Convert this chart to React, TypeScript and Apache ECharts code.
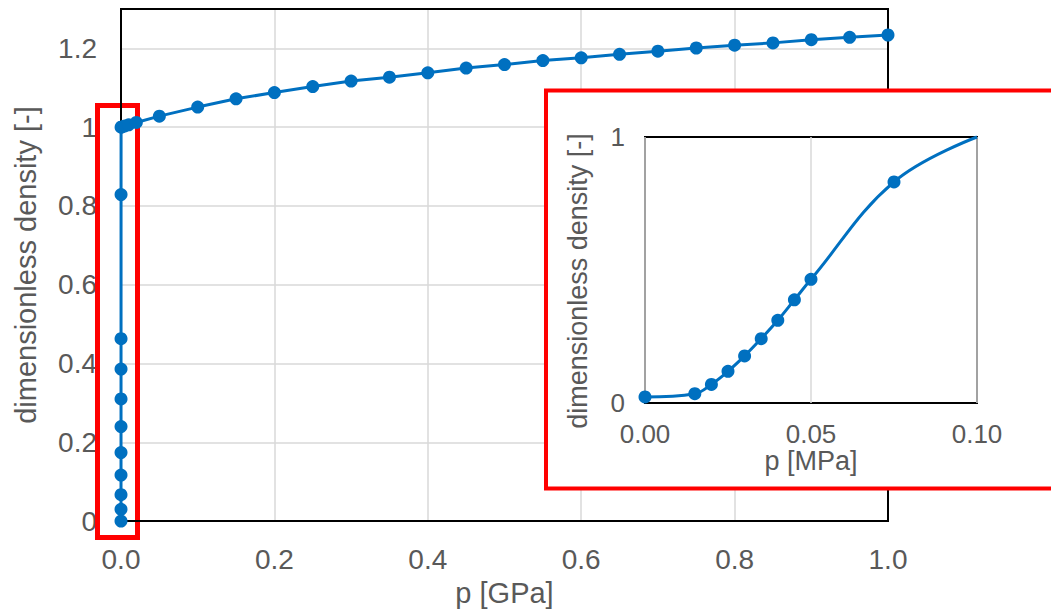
import React, { useEffect, useRef } from "react";
import * as echarts from "echarts";

// Main chart: p in GPa, dimensionless density
const mainP: number[] = [
  0, 0.000015, 0.00002, 0.000025, 0.00003, 0.000035, 0.00004, 0.000045, 0.00005, 0.000075, 0.0001,
  0.001, 0.005, 0.01, 0.02, 0.05, 0.1, 0.15, 0.2, 0.25, 0.3, 0.35, 0.4, 0.45, 0.5, 0.55, 0.6, 0.65,
  0.7, 0.75, 0.8, 0.85, 0.9, 0.95, 1.0,
];
const mainRho: number[] = [
  0, 0.03, 0.067, 0.117, 0.174, 0.24, 0.31, 0.386, 0.463, 0.829, 1.0,
  1.0005, 1.003, 1.006, 1.012, 1.028, 1.051, 1.072, 1.088, 1.103, 1.117, 1.127, 1.138, 1.15, 1.159,
  1.169, 1.176, 1.185, 1.193, 1.201, 1.208, 1.214, 1.222, 1.228, 1.234,
];

// Inset: p in MPa
const insetP: number[] = [0, 0.015, 0.02, 0.025, 0.03, 0.035, 0.04, 0.045, 0.05, 0.075, 0.1];
const insetRho: number[] = [0.023, 0.035, 0.07, 0.119, 0.177, 0.242, 0.311, 0.388, 0.465, 0.831, 1.0];
const insetMarked: boolean[] = [true, true, true, true, true, true, true, true, true, true, false];

const mainXTicks = { min: 0, max: 1, interval: 0.2 };
const mainYTicks = { min: 0, max: 1.3, interval: 0.2 };
const insetXTicks = { min: 0, max: 0.1, interval: 0.05 };
const insetYTicks = { min: 0, max: 1, interval: 1 };

const BLUE = "#0070C0";
const GREY_TEXT = "#595959";
const GRID_LINE = "#D9D9D9";
const FONT = "Liberation Sans, Arial, sans-serif";

export default function App() {
  const ref = useRef<HTMLDivElement>(null);

  useEffect(() => {
    if (!ref.current) return;
    const chart = echarts.init(ref.current, undefined, { renderer: "svg" });

    const mainData = mainP.map((p, i) => [p, mainRho[i]]);
    const insetData = insetP.map((p, i) =>
      insetMarked[i]
        ? [p, insetRho[i]]
        : { value: [p, insetRho[i]], symbol: "none" }
    );

    const fmtY = (v: number) => String(Number(v.toFixed(1)));

    chart.setOption({
      animation: false,
      backgroundColor: "#ffffff",
      textStyle: { fontFamily: FONT },
      grid: [
        {
          left: 121, top: 9, width: 767, height: 513,
          show: true, borderColor: "#000", borderWidth: 2, z: 2,
        },
        {
          left: 645, top: 137, width: 332, height: 266,
          show: true, borderColor: "#000", borderWidth: 2, z: 60,
          backgroundColor: "#fff",
        },
      ],
      xAxis: [
        {
          type: "value", gridIndex: 0, ...mainXTicks,
          name: "p [GPa]", nameLocation: "middle", nameGap: 53,
          nameTextStyle: { color: GREY_TEXT, fontSize: 29, fontFamily: FONT },
          axisLine: { show: false }, axisTick: { show: false },
          axisLabel: {
            color: GREY_TEXT, fontSize: 28, margin: 24, fontFamily: FONT,
            formatter: (v: number) => v.toFixed(1),
          },
          splitLine: { show: true, lineStyle: { color: GRID_LINE, width: 1.5 } },
        },
        {
          type: "value", gridIndex: 1, ...insetXTicks, z: 60,
          name: "p [MPa]", nameLocation: "middle", nameGap: 37,
          nameTextStyle: { color: GREY_TEXT, fontSize: 27, fontFamily: FONT, lineHeight: 24 },
          axisLine: { show: false }, axisTick: { show: false },
          axisLabel: {
            color: GREY_TEXT, fontSize: 26, margin: 20, fontFamily: FONT, lineHeight: 22,
            formatter: (v: number) => v.toFixed(2),
          },
          splitLine: { show: true, lineStyle: { color: GRID_LINE, width: 1.5 } },
        },
      ],
      yAxis: [
        {
          type: "value", gridIndex: 0, ...mainYTicks,
          name: "dimensionless density [-]", nameLocation: "middle", nameGap: 81,
          nameTextStyle: { color: GREY_TEXT, fontSize: 29, fontFamily: FONT },
          axisLine: { show: false }, axisTick: { show: false },
          axisLabel: {
            color: GREY_TEXT, fontSize: 28, margin: 24, fontFamily: FONT,
            showMaxLabel: false, formatter: fmtY,
          },
          splitLine: { show: true, lineStyle: { color: GRID_LINE, width: 1.5 } },
        },
        {
          type: "value", gridIndex: 1, ...insetYTicks, z: 60,
          name: "dimensionless density [-]", nameLocation: "middle", nameGap: 54,
          nameTextStyle: {
            color: GREY_TEXT, fontSize: 27, fontFamily: FONT, padding: [0, 22, 0, 0],
          },
          axisLine: { show: false }, axisTick: { show: false },
          axisLabel: {
            color: GREY_TEXT, fontSize: 26, margin: 20, fontFamily: FONT,
            formatter: fmtY,
          },
          splitLine: { show: false },
        },
      ],
      graphic: [
        {
          type: "rect", z: 50,
          shape: { x: 546, y: 90.5, width: 540, height: 398 },
          style: { fill: "#fff", stroke: "#FF0000", lineWidth: 4 },
        },
        {
          type: "rect", z: 1,
          shape: { x: 97.5, y: 105.5, width: 40, height: 432 },
          style: { fill: "none", stroke: "#FF0000", lineWidth: 5 },
        },
      ],
      series: [
        {
          type: "line", xAxisIndex: 0, yAxisIndex: 0, data: mainData,
          symbol: "circle", symbolSize: 13, showSymbol: true,
          itemStyle: { color: BLUE }, lineStyle: { color: BLUE, width: 3 },
          smooth: false, clip: false, z: 2,
        },
        {
          type: "line", xAxisIndex: 1, yAxisIndex: 1, data: insetData,
          symbol: "circle", symbolSize: 13, showSymbol: true,
          itemStyle: { color: BLUE }, lineStyle: { color: BLUE, width: 3 },
          smooth: 0.4, clip: false, z: 61,
        },
      ],
    });

    return () => chart.dispose();
  }, []);

  return (
    <div
      ref={ref}
      style={{ position: "absolute", left: 0, top: 0, width: 1051, height: 612 }}
    />
  );
}
